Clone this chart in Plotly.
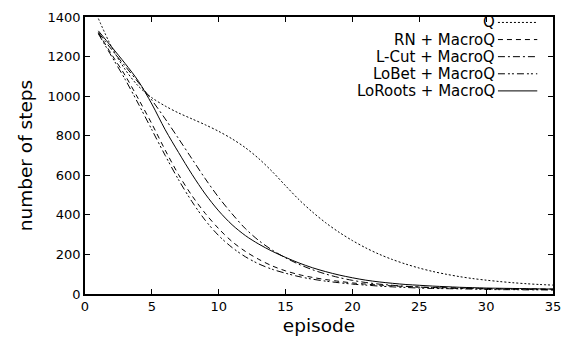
import plotly.graph_objects as go

episodes = list(range(1, 36))

q_steps = [1392, 1247, 1135, 1050, 992, 950, 915, 885, 855, 822, 784, 739, 684, 619, 547,
           477, 415, 360, 312, 270, 233, 201, 174, 151, 131, 114, 100, 88, 78, 70, 63, 57, 52, 48, 45]
rn_steps = [1320, 1210, 1105, 985, 860, 727, 603, 497, 407, 330, 265, 215, 175, 142, 117,
            98, 84, 73, 64, 56, 50, 45, 41, 38, 35, 33, 32, 30, 29, 28, 27, 26, 26, 25, 25]
lcut_steps = [1322, 1235, 1152, 1068, 980, 885, 785, 683, 582, 488, 405, 330, 270, 222, 183,
              150, 123, 101, 83, 69, 58, 50, 44, 39, 35, 32, 30, 28, 27, 26, 25, 24, 23, 23, 22]
lobet_steps = [1315, 1200, 1085, 960, 830, 700, 577, 467, 372, 295, 235, 188, 152, 125, 105,
               88, 75, 65, 57, 50, 45, 40, 36, 33, 30, 28, 27, 26, 25, 23, 22, 22, 21, 21, 20]
loroots_steps = [1330, 1248, 1165, 1075, 960, 830, 715, 605, 505, 420, 350, 295, 252, 216, 185,
                 157, 133, 113, 96, 82, 70, 61, 54, 48, 44, 40, 37, 34, 32, 30, 29, 28, 27, 26, 25]

series_names = ["Q", "RN + MacroQ", "L-Cut + MacroQ", "LoBet + MacroQ", "LoRoots + MacroQ"]
series_values = [q_steps, rn_steps, lcut_steps, lobet_steps, loroots_steps]
dashes = ["2px,2px", "5px,4px", "7px,3px,2px,3px", "7px,3px,2px,2px,2px,3px", "solid"]

x_ticks = [0, 5, 10, 15, 20, 25, 30, 35]
y_ticks = [0, 200, 400, 600, 800, 1000, 1200, 1400]

font = "DejaVu Sans"
fig = go.Figure()
for name, vals, dash in zip(series_names, series_values, dashes):
    fig.add_trace(go.Scatter(x=episodes, y=vals, mode="lines", name=name,
                             line=dict(color="black", width=1, dash=dash, shape="spline", smoothing=0.9),
                             showlegend=False))

# custom gnuplot-style legend: right-aligned text with sample line on the right
W, H = 571, 349
l, r, t, b = 85, 10, 14, 55
pw, ph = W - l - r, H - t - b
for i, (name, dash) in enumerate(zip(series_names, dashes)):
    ypx = 19.5 + i * 17.3
    yp = 1 - (ypx - t) / ph
    x_text = (498 - l) / pw
    x0 = (505 - l) / pw
    x1 = (545 - l) / pw
    fig.add_annotation(x=x_text, y=yp, xref="paper", yref="paper", text=name, showarrow=False,
                       xanchor="right", yanchor="middle", xshift=5, yshift=0,
                       borderpad=0,
                       font=dict(family=font, size=15, color="black"))
    fig.add_shape(type="line", xref="paper", yref="paper", x0=x0, x1=x1, y0=yp, y1=yp,
                  line=dict(color="black", width=1, dash=dash))

axis_common = dict(showline=True, linecolor="black", linewidth=1.5, mirror="ticks",
                   ticks="inside", ticklen=5, tickwidth=1, tickcolor="black",
                   showgrid=False, zeroline=False,
                   tickfont=dict(family=font, size=13, color="black"))
fig.update_xaxes(range=[0, 35], tickvals=x_ticks, ticktext=[str(v) for v in x_ticks],
                 title=dict(text="episode", font=dict(family=font, size=18.5, color="black"), standoff=6),
                 **axis_common)
fig.update_yaxes(range=[0, 1400], tickvals=y_ticks, ticktext=[str(v) for v in y_ticks],
                 title=dict(text="number of steps", font=dict(family=font, size=18.5, color="black"), standoff=10),
                 **axis_common)
fig.update_layout(width=W, height=H, margin=dict(l=l, r=r, t=t, b=b),
                  plot_bgcolor="white", paper_bgcolor="white", showlegend=False)
fig.write_html("out.html")
